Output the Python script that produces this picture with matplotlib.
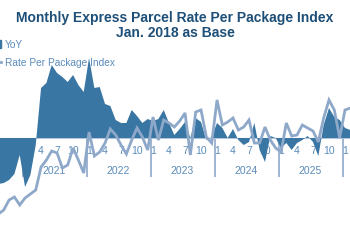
import numpy as np
import pandas as pd
import matplotlib
matplotlib.use("Agg")
import matplotlib.pyplot as plt
from matplotlib.patches import Patch
from matplotlib.lines import Line2D

plt.rcParams["font.family"] = ["Liberation Sans", "DejaVu Sans"]

# monthly data, Aug 2020 .. Sep 2026 window (chart is cropped on both sides)
start_month = "2020-08"
yoy = [
    -18.4, -18.0, -16.8, -14.4, -6.8,
    -19.6, -14.8, -2.8, 20.0, 22.0, 29.2, 26.0, 24.4, 22.4, 25.2, 21.2, 18.4,
    32.0, 20.0, 20.4, 13.6, 12.8, 7.2, 6.0, 6.0, 11.2, 8.8, 6.0, 7.6,
    6.8, 7.6, 11.2, 6.0, 1.2, 3.6, 6.4, 0.0, 8.0, 6.4, -0.8, 0.4,
    6.0, 4.0, 0.0, 3.6, -0.8, -2.8, -1.6, 6.0, -4.8, -9.6, 0.8, 0.0,
    -4.0, -2.0, -4.8, -2.0, -0.8, 0.8, -1.6, -7.2, 5.2, 12.0, 8.4, 7.2,
    4.0, 3.2,
]
rate_index = [
    95.8, 97.0, 100.0, 100.9, 98.5,
    100.6, 101.8, 103.0, 109.9, 112.0, 114.7, 114.1, 109.6, 110.5, 115.6, 112.0, 108.1,
    120.4, 113.2, 114.4, 117.1, 121.3, 119.5, 116.5, 113.8, 118.0, 121.6, 118.9, 115.0,
    124.9, 118.0, 124.0, 123.1, 121.9, 123.7, 126.1, 113.5, 126.4, 127.0, 118.9, 117.1,
    130.0, 122.5, 123.4, 124.6, 121.0, 121.9, 124.0, 117.1, 117.1, 121.9, 118.0, 115.6,
    114.4, 123.1, 119.2, 119.5, 122.5, 121.6, 120.7, 117.4, 124.6, 130.0, 127.0, 118.6,
    127.0, 127.6,
]
month_ticks = [1, 4, 7, 10]
years = [2021, 2022, 2023, 2024, 2025]
year_breaks = [2021, 2022, 2023, 2024, 2025, 2026]

dark = "#3a76a3"
light = "#8ea8c9"
label_c = "#5a8bba"

months = pd.period_range(start_month, periods=len(yoy), freq="M")
base = pd.Period("2022-01", freq="M")
x = np.array([(p - base).n for p in months])

fig = plt.figure(figsize=(3.5, 2.5), dpi=100)
ax = fig.add_axes([0, 0, 1, 1])
ax.set_xlim(-16.7, 48.94)
ax.set_ylim(-44.8, 55.2)
ax.axis("off")

ax.fill_between(x, 0, yoy, color=dark, lw=0, zorder=3)
ax.axhline(0, color="#b3c6dc", lw=0.8, zorder=2)

# category axis labels (month + year), drawn under the series
for p, xi in zip(months, x):
    if p.month in month_ticks and xi < 48.5:
        ax.text(xi, -5.0, str(p.month), ha="center", va="center",
                fontsize=7.5, color=label_c, zorder=1)
for yr in years:
    xc = (yr - 2022) * 12 + 5.5
    ax.text(xc, -13.0, str(yr), ha="center", va="center",
            fontsize=7.5, color=label_c, zorder=1)
for yr in year_breaks:
    ax.vlines((yr - 2022) * 12 - 0.3, -15.6, 0, color=light, lw=1.2, zorder=1)

ax2 = ax.twinx()
ax2.set_ylim(85, 160)
ax2.axis("off")
ax2.plot(x, rate_index, color=light, lw=2.0, solid_joinstyle="miter")

fig.text(0.5, 1 - 25.5 / 250, "Monthly Express Parcel Rate Per Package Index\nJan. 2018 as Base",
         ha="center", va="center", fontsize=10, fontweight="bold",
         color="#1d4f78", linespacing=1.15)

handles = [Patch(color=dark), Line2D([], [], color=light, lw=2.0)]
fig.legend(handles, ["YoY", "Rate Per Package Index"], loc="upper left",
           bbox_to_anchor=(-0.042, 1 - 39.5 / 250), frameon=False, fontsize=7.3,
           labelcolor=label_c, handlelength=1.5, handletextpad=0.4,
           borderpad=0, borderaxespad=0, labelspacing=0.8)

fig.savefig("out.png", dpi=100)
